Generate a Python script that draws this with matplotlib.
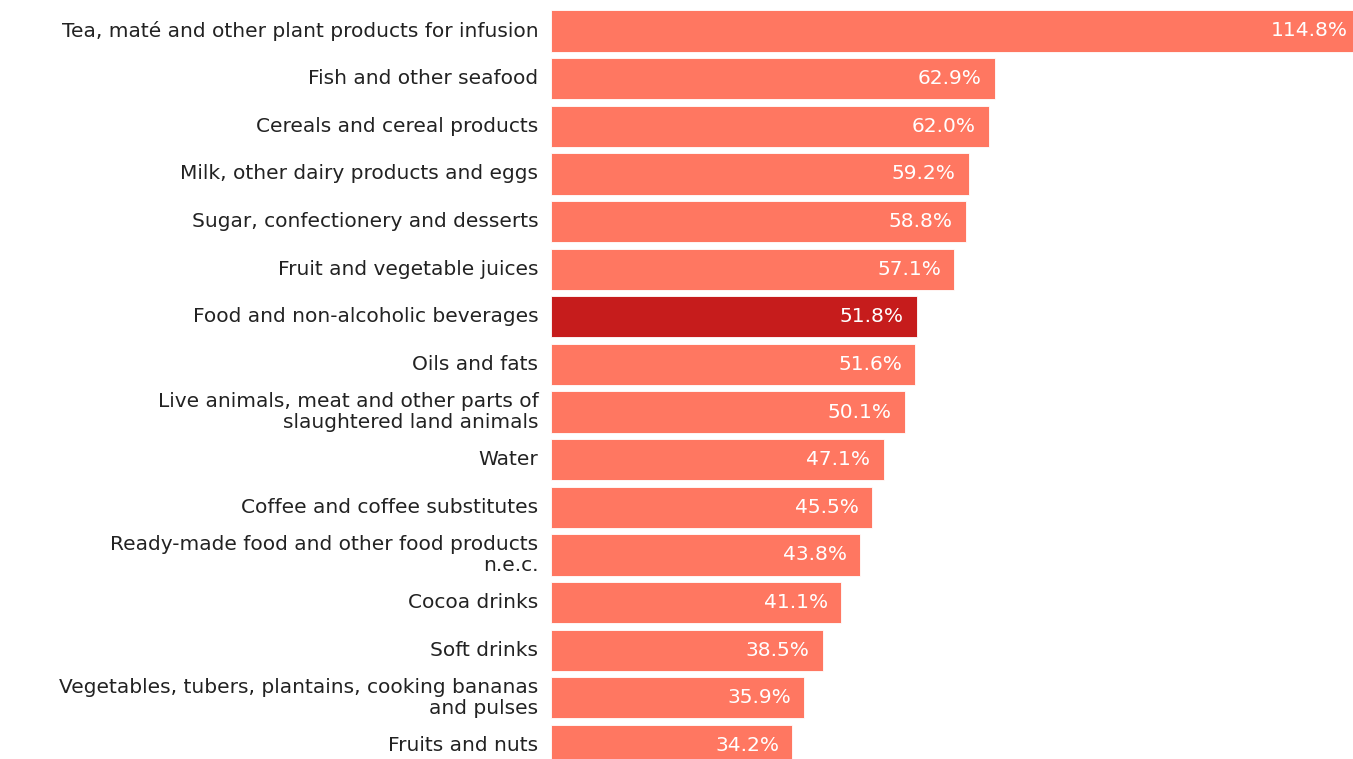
import matplotlib
matplotlib.use("Agg")
import matplotlib.pyplot as plt

categories = [
    "Tea, maté and other plant products for infusion",
    "Fish and other seafood",
    "Cereals and cereal products",
    "Milk, other dairy products and eggs",
    "Sugar, confectionery and desserts",
    "Fruit and vegetable juices",
    "Food and non-alcoholic beverages",
    "Oils and fats",
    "Live animals, meat and other parts of\nslaughtered land animals",
    "Water",
    "Coffee and coffee substitutes",
    "Ready-made food and other food products\nn.e.c.",
    "Cocoa drinks",
    "Soft drinks",
    "Vegetables, tubers, plantains, cooking bananas\nand pulses",
    "Fruits and nuts",
]
values = [114.8, 62.9, 62.0, 59.2, 58.8, 57.1, 51.8, 51.6, 50.1, 47.1, 45.5, 43.8, 41.1, 38.5, 35.9, 34.2]
highlight = "Food and non-alcoholic beverages"

FONT = "DejaVu Sans"
FS = 14.5

W, H = 1353, 759
fig = plt.figure(figsize=(W / 100, H / 100), dpi=100)
pitch = 47.63
top_px = 31 - pitch / 2
total = pitch * len(categories)
left_px = 551
ax = fig.add_axes([left_px / W, (H - top_px - total) / H, (W - left_px) / W, total / H])

colors = ["#C61C1C" if c == highlight else "#FF7761" for c in categories]
ys = list(range(len(categories)))
ax.barh(ys, values, height=0.867, color=colors, edgecolor="white", linewidth=0.6)
px_per_unit = 7.06
ax.set_xlim(0, (W - left_px) / px_per_unit)
ax.set_ylim(len(categories) - 0.5, -0.5)
ax.set_yticks(ys)
ax.set_yticklabels(categories, fontfamily=FONT, fontsize=FS, color="#222222",
                   linespacing=1.15, va="center")
ax.tick_params(axis="y", length=0, pad=9)
ax.set_xticks([])
for s in ax.spines.values():
    s.set_visible(False)

for y, v in zip(ys, values):
    ax.annotate(f"{v:.1f}%", xy=(v, y), xytext=(-9.5, 0), textcoords="offset points",
                ha="right", va="center", color="white", fontfamily=FONT, fontsize=FS,
                annotation_clip=False)

fig.savefig("out.png", dpi=100)
